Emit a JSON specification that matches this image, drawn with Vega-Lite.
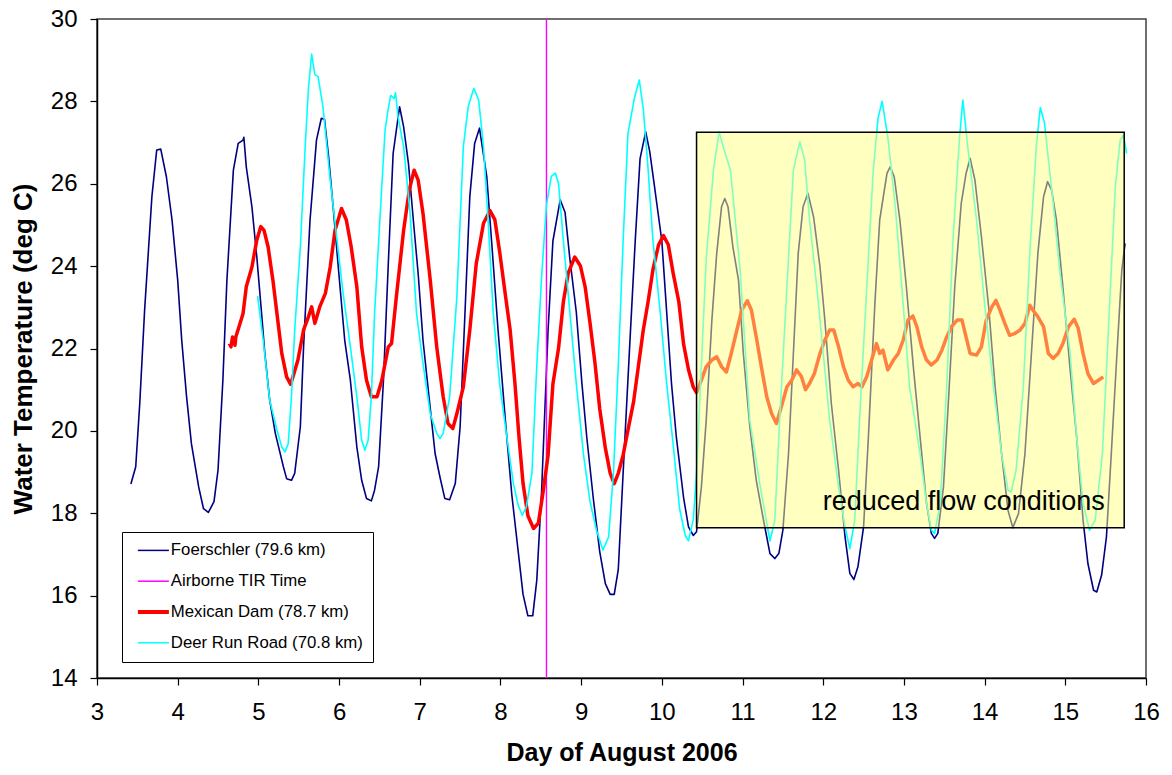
{
  "$schema": "https://vega.github.io/schema/vega-lite/v6.json",
  "width": 1049,
  "height": 659,
  "autosize": {"type": "none"},
  "padding": {"left": 97, "top": 19, "right": 26, "bottom": 97},
  "background": "white",
  "config": {
    "view": {"stroke": "#404040", "strokeWidth": 1.5},
    "font": "Liberation Sans",
    "axis": {"labelFont": "Liberation Sans", "titleFont": "Liberation Sans", "labelColor": "#000", "titleColor": "#000", "domainColor": "#000", "tickColor": "#000", "domainWidth": 1.5, "tickWidth": 1.2, "tickSize": 7, "grid": false, "labelOverlap": false, "labelFlush": false, "titleFontWeight": "bold"}
  },
  "datasets": {
    "foerschler": [
      {"day":3.42,"temp":18.71},{"day":3.48,"temp":19.13},{"day":3.53,"temp":20.67},{"day":3.59,"temp":22.93},{"day":3.68,"temp":25.68},{"day":3.74,"temp":26.82},{"day":3.79,"temp":26.84},{"day":3.86,"temp":26.17},{"day":3.93,"temp":25.12},{"day":4.0,"temp":23.66},{"day":4.05,"temp":22.2},{"day":4.11,"temp":20.83},{"day":4.17,"temp":19.69},{"day":4.26,"temp":18.64},{"day":4.32,"temp":18.11},{"day":4.38,"temp":18.02},{"day":4.45,"temp":18.28},{"day":4.5,"temp":19.05},{"day":4.56,"temp":21.23},{"day":4.61,"temp":23.66},{"day":4.69,"temp":26.33},{"day":4.75,"temp":26.98},{"day":4.81,"temp":27.06},{"day":4.82,"temp":27.13},{"day":4.85,"temp":26.41},{"day":4.92,"temp":25.44},{"day":4.98,"temp":24.23},{"day":5.04,"temp":22.85},{"day":5.08,"temp":21.88},{"day":5.14,"temp":20.75},{"day":5.21,"temp":19.94},{"day":5.31,"temp":19.13},{"day":5.35,"temp":18.84},{"day":5.41,"temp":18.8},{"day":5.45,"temp":18.97},{"day":5.52,"temp":20.1},{"day":5.56,"temp":22.04},{"day":5.64,"temp":25.12},{"day":5.72,"temp":27.06},{"day":5.78,"temp":27.59},{"day":5.82,"temp":27.56},{"day":5.87,"temp":26.66},{"day":5.93,"temp":25.36},{"day":5.99,"temp":23.98},{"day":6.07,"temp":22.2},{"day":6.14,"temp":21.23},{"day":6.22,"temp":19.61},{"day":6.28,"temp":18.8},{"day":6.34,"temp":18.36},{"day":6.4,"temp":18.3},{"day":6.44,"temp":18.56},{"day":6.49,"temp":19.13},{"day":6.55,"temp":21.23},{"day":6.61,"temp":24.06},{"day":6.67,"temp":26.74},{"day":6.75,"temp":27.87},{"day":6.8,"temp":27.38},{"day":6.86,"temp":26.49},{"day":6.92,"temp":25.12},{"day":6.98,"temp":23.82},{"day":7.04,"temp":22.2},{"day":7.11,"temp":20.91},{"day":7.19,"temp":19.45},{"day":7.25,"temp":18.88},{"day":7.31,"temp":18.36},{"day":7.37,"temp":18.33},{"day":7.44,"temp":18.72},{"day":7.5,"temp":20.1},{"day":7.56,"temp":22.85},{"day":7.62,"temp":25.68},{"day":7.68,"temp":26.98},{"day":7.74,"temp":27.35},{"day":7.83,"temp":26.18},{"day":7.89,"temp":24.61},{"day":7.97,"temp":22.45},{"day":8.06,"temp":20.28},{"day":8.14,"temp":18.46},{"day":8.22,"temp":17.07},{"day":8.28,"temp":16.03},{"day":8.34,"temp":15.51},{"day":8.4,"temp":15.51},{"day":8.45,"temp":16.37},{"day":8.51,"temp":18.54},{"day":8.59,"temp":22.45},{"day":8.65,"temp":24.61},{"day":8.74,"temp":25.61},{"day":8.8,"temp":25.31},{"day":8.86,"temp":24.18},{"day":8.94,"temp":22.88},{"day":9.01,"temp":21.14},{"day":9.07,"temp":19.84},{"day":9.15,"temp":18.37},{"day":9.23,"temp":17.07},{"day":9.3,"temp":16.29},{"day":9.36,"temp":16.03},{"day":9.41,"temp":16.03},{"day":9.46,"temp":16.63},{"day":9.52,"temp":18.97},{"day":9.6,"temp":22.01},{"day":9.67,"temp":24.61},{"day":9.73,"temp":26.61},{"day":9.8,"temp":27.26},{"day":9.85,"temp":26.78},{"day":9.91,"temp":25.92},{"day":10.0,"temp":24.61},{"day":10.06,"temp":22.88},{"day":10.12,"temp":21.14},{"day":10.18,"temp":19.84},{"day":10.27,"temp":18.37},{"day":10.33,"temp":17.67},{"day":10.39,"temp":17.46},{"day":10.43,"temp":17.55},{"day":10.49,"temp":18.64},{"day":10.55,"temp":20.26},{"day":10.62,"temp":22.69},{"day":10.68,"temp":24.31},{"day":10.74,"temp":25.44},{"day":10.78,"temp":25.64},{"day":10.82,"temp":25.44},{"day":10.88,"temp":24.47},{"day":10.95,"temp":23.66},{"day":11.01,"temp":21.88},{"day":11.09,"temp":20.1},{"day":11.17,"temp":18.8},{"day":11.26,"temp":17.83},{"day":11.34,"temp":17.02},{"day":11.4,"temp":16.9},{"day":11.45,"temp":17.02},{"day":11.5,"temp":17.59},{"day":11.57,"temp":19.45},{"day":11.63,"temp":21.88},{"day":11.69,"temp":24.31},{"day":11.75,"temp":25.44},{"day":11.81,"temp":25.77},{"day":11.88,"temp":25.2},{"day":11.96,"temp":23.98},{"day":12.02,"temp":22.69},{"day":12.1,"temp":20.67},{"day":12.19,"temp":19.05},{"day":12.27,"temp":17.43},{"day":12.33,"temp":16.54},{"day":12.38,"temp":16.39},{"day":12.43,"temp":16.7},{"day":12.5,"temp":17.67},{"day":12.56,"temp":19.86},{"day":12.64,"temp":23.09},{"day":12.7,"temp":25.12},{"day":12.79,"temp":26.25},{"day":12.83,"temp":26.41},{"day":12.88,"temp":26.17},{"day":12.95,"temp":25.12},{"day":13.03,"temp":23.5},{"day":13.12,"temp":21.48},{"day":13.2,"temp":19.86},{"day":13.28,"temp":18.24},{"day":13.34,"temp":17.51},{"day":13.38,"temp":17.39},{"day":13.42,"temp":17.51},{"day":13.49,"temp":18.64},{"day":13.55,"temp":20.67},{"day":13.63,"temp":23.5},{"day":13.71,"temp":25.52},{"day":13.77,"temp":26.25},{"day":13.82,"temp":26.62},{"day":13.88,"temp":26.09},{"day":13.96,"temp":24.72},{"day":14.05,"temp":23.01},{"day":14.13,"temp":21.07},{"day":14.21,"temp":19.45},{"day":14.29,"temp":18.07},{"day":14.35,"temp":17.65},{"day":14.42,"temp":17.99},{"day":14.5,"temp":19.45},{"day":14.58,"temp":21.88},{"day":14.66,"temp":24.31},{"day":14.73,"temp":25.68},{"day":14.78,"temp":26.05},{"day":14.83,"temp":25.85},{"day":14.89,"temp":25.12},{"day":14.97,"temp":23.5},{"day":15.06,"temp":21.48},{"day":15.14,"temp":19.86},{"day":15.22,"temp":17.83},{"day":15.28,"temp":16.78},{"day":15.35,"temp":16.13},{"day":15.39,"temp":16.09},{"day":15.45,"temp":16.5},{"day":15.51,"temp":17.43},{"day":15.57,"temp":19.45},{"day":15.64,"temp":21.88},{"day":15.7,"temp":23.9},{"day":15.74,"temp":24.55}
    ],
    "tir": [
      {"day":8.57,"temp":14},{"day":8.57,"temp":30}
    ],
    "mexican": [
      {"day":4.64,"temp":22.12},{"day":4.66,"temp":22.04},{"day":4.68,"temp":22.28},{"day":4.71,"temp":22.08},{"day":4.72,"temp":22.28},{"day":4.76,"temp":22.53},{"day":4.81,"temp":22.85},{"day":4.85,"temp":23.5},{"day":4.92,"temp":23.98},{"day":4.98,"temp":24.63},{"day":5.03,"temp":24.96},{"day":5.07,"temp":24.87},{"day":5.12,"temp":24.47},{"day":5.18,"temp":23.66},{"day":5.23,"temp":22.85},{"day":5.29,"temp":21.88},{"day":5.35,"temp":21.31},{"day":5.4,"temp":21.13},{"day":5.44,"temp":21.39},{"day":5.49,"temp":21.72},{"day":5.56,"temp":22.45},{"day":5.62,"temp":22.77},{"day":5.66,"temp":23.01},{"day":5.7,"temp":22.61},{"day":5.76,"temp":23.01},{"day":5.83,"temp":23.34},{"day":5.89,"temp":23.98},{"day":5.95,"temp":24.87},{"day":6.03,"temp":25.4},{"day":6.09,"temp":25.12},{"day":6.15,"temp":24.47},{"day":6.22,"temp":23.5},{"day":6.28,"temp":22.04},{"day":6.34,"temp":21.23},{"day":6.4,"temp":20.83},{"day":6.47,"temp":20.83},{"day":6.53,"temp":21.23},{"day":6.61,"temp":22.04},{"day":6.65,"temp":22.12},{"day":6.71,"temp":23.26},{"day":6.8,"temp":24.87},{"day":6.87,"temp":25.85},{"day":6.93,"temp":26.33},{"day":6.98,"temp":26.09},{"day":7.04,"temp":25.28},{"day":7.13,"temp":23.66},{"day":7.21,"temp":22.04},{"day":7.29,"temp":20.83},{"day":7.35,"temp":20.18},{"day":7.41,"temp":20.06},{"day":7.46,"temp":20.42},{"day":7.54,"temp":21.07},{"day":7.62,"temp":22.45},{"day":7.7,"temp":24.06},{"day":7.79,"temp":25.04},{"day":7.87,"temp":25.35},{"day":7.93,"temp":25.13},{"day":7.99,"temp":24.35},{"day":8.06,"temp":23.31},{"day":8.12,"temp":22.45},{"day":8.18,"temp":21.14},{"day":8.23,"temp":19.84},{"day":8.28,"temp":18.72},{"day":8.34,"temp":17.94},{"day":8.41,"temp":17.63},{"day":8.47,"temp":17.76},{"day":8.53,"temp":18.54},{"day":8.59,"temp":19.41},{"day":8.65,"temp":21.14},{"day":8.72,"temp":22.01},{"day":8.78,"temp":23.14},{"day":8.84,"temp":23.83},{"day":8.92,"temp":24.22},{"day":8.99,"temp":24.01},{"day":9.05,"temp":23.49},{"day":9.11,"temp":22.62},{"day":9.17,"temp":21.67},{"day":9.23,"temp":20.54},{"day":9.3,"temp":19.58},{"day":9.36,"temp":18.97},{"day":9.41,"temp":18.72},{"day":9.46,"temp":18.97},{"day":9.52,"temp":19.41},{"day":9.58,"temp":20.02},{"day":9.65,"temp":20.71},{"day":9.71,"temp":21.58},{"day":9.77,"temp":22.45},{"day":9.83,"temp":23.14},{"day":9.89,"temp":23.92},{"day":9.96,"temp":24.52},{"day":10.02,"temp":24.74},{"day":10.08,"temp":24.52},{"day":10.14,"temp":23.83},{"day":10.21,"temp":23.14},{"day":10.27,"temp":22.1},{"day":10.33,"temp":21.49},{"day":10.39,"temp":21.06},{"day":10.43,"temp":20.93},{"day":10.49,"temp":21.23},{"day":10.55,"temp":21.56},{"day":10.62,"temp":21.72},{"day":10.68,"temp":21.8},{"day":10.74,"temp":21.56},{"day":10.8,"temp":21.43},{"day":10.86,"temp":21.88},{"day":10.93,"temp":22.45},{"day":10.99,"temp":22.93},{"day":11.06,"temp":23.16},{"day":11.11,"temp":22.93},{"day":11.17,"temp":22.28},{"day":11.24,"temp":21.48},{"day":11.3,"temp":20.83},{"day":11.36,"temp":20.42},{"day":11.42,"temp":20.18},{"day":11.48,"temp":20.58},{"day":11.55,"temp":21.07},{"day":11.61,"temp":21.23},{"day":11.67,"temp":21.48},{"day":11.73,"temp":21.32},{"day":11.78,"temp":21.0},{"day":11.83,"temp":21.15},{"day":11.89,"temp":21.39},{"day":11.96,"temp":21.88},{"day":12.02,"temp":22.2},{"day":12.08,"temp":22.45},{"day":12.13,"temp":22.45},{"day":12.19,"temp":22.04},{"day":12.25,"temp":21.56},{"day":12.31,"temp":21.23},{"day":12.37,"temp":21.07},{"day":12.43,"temp":21.15},{"day":12.48,"temp":21.07},{"day":12.54,"temp":21.32},{"day":12.6,"temp":21.72},{"day":12.66,"temp":22.12},{"day":12.7,"temp":21.88},{"day":12.74,"temp":21.96},{"day":12.8,"temp":21.48},{"day":12.87,"temp":21.72},{"day":12.93,"temp":21.88},{"day":12.99,"temp":22.2},{"day":13.05,"temp":22.69},{"day":13.11,"temp":22.79},{"day":13.16,"temp":22.53},{"day":13.22,"temp":22.04},{"day":13.28,"temp":21.72},{"day":13.34,"temp":21.6},{"day":13.41,"temp":21.72},{"day":13.47,"temp":21.96},{"day":13.53,"temp":22.28},{"day":13.59,"temp":22.53},{"day":13.66,"temp":22.69},{"day":13.72,"temp":22.69},{"day":13.76,"temp":22.36},{"day":13.82,"temp":21.88},{"day":13.9,"temp":21.84},{"day":13.96,"temp":22.04},{"day":14.02,"temp":22.69},{"day":14.09,"temp":23.01},{"day":14.14,"temp":23.17},{"day":14.19,"temp":22.93},{"day":14.25,"temp":22.61},{"day":14.31,"temp":22.32},{"day":14.37,"temp":22.36},{"day":14.44,"temp":22.45},{"day":14.5,"temp":22.61},{"day":14.56,"temp":23.05},{"day":14.6,"temp":22.93},{"day":14.66,"temp":22.77},{"day":14.73,"temp":22.53},{"day":14.79,"temp":21.88},{"day":14.85,"temp":21.76},{"day":14.91,"temp":21.88},{"day":14.97,"temp":22.12},{"day":15.04,"temp":22.53},{"day":15.11,"temp":22.71},{"day":15.16,"temp":22.49},{"day":15.22,"temp":21.88},{"day":15.28,"temp":21.39},{"day":15.35,"temp":21.15},{"day":15.41,"temp":21.23},{"day":15.47,"temp":21.31}
    ],
    "deerrun": [
      {"day":4.99,"temp":23.27},{"day":5.06,"temp":22.2},{"day":5.14,"temp":20.75},{"day":5.23,"temp":20.02},{"day":5.29,"temp":19.61},{"day":5.33,"temp":19.49},{"day":5.37,"temp":19.69},{"day":5.41,"temp":20.83},{"day":5.45,"temp":22.45},{"day":5.52,"temp":24.47},{"day":5.58,"temp":26.9},{"day":5.62,"temp":28.3},{"day":5.66,"temp":29.15},{"day":5.7,"temp":28.65},{"day":5.74,"temp":28.6},{"day":5.8,"temp":27.87},{"day":5.89,"temp":26.09},{"day":5.97,"temp":24.71},{"day":6.05,"temp":23.34},{"day":6.14,"temp":22.04},{"day":6.22,"temp":20.83},{"day":6.28,"temp":19.77},{"day":6.32,"temp":19.53},{"day":6.36,"temp":19.77},{"day":6.4,"temp":20.83},{"day":6.44,"temp":22.85},{"day":6.51,"temp":25.28},{"day":6.57,"temp":27.3},{"day":6.6,"temp":27.71},{"day":6.64,"temp":28.15},{"day":6.68,"temp":28.07},{"day":6.7,"temp":28.21},{"day":6.73,"temp":27.63},{"day":6.8,"temp":26.9},{"day":6.88,"temp":25.28},{"day":6.96,"temp":22.85},{"day":7.04,"temp":21.64},{"day":7.13,"temp":20.42},{"day":7.21,"temp":19.94},{"day":7.25,"temp":19.81},{"day":7.29,"temp":19.94},{"day":7.37,"temp":20.83},{"day":7.46,"temp":23.26},{"day":7.54,"temp":26.9},{"day":7.6,"temp":27.87},{"day":7.67,"temp":28.32},{"day":7.73,"temp":28.03},{"day":7.79,"temp":26.9},{"day":7.85,"temp":25.0},{"day":7.91,"temp":22.88},{"day":7.99,"temp":21.14},{"day":8.08,"temp":19.84},{"day":8.16,"temp":18.72},{"day":8.22,"temp":18.19},{"day":8.27,"temp":17.95},{"day":8.32,"temp":18.15},{"day":8.39,"temp":18.97},{"day":8.45,"temp":21.58},{"day":8.51,"temp":23.75},{"day":8.57,"temp":25.48},{"day":8.63,"temp":26.18},{"day":8.68,"temp":26.26},{"day":8.72,"temp":26.0},{"day":8.78,"temp":24.61},{"day":8.86,"temp":22.88},{"day":8.94,"temp":21.14},{"day":9.03,"temp":19.41},{"day":9.11,"temp":18.28},{"day":9.19,"temp":17.59},{"day":9.27,"temp":17.11},{"day":9.34,"temp":17.42},{"day":9.4,"temp":18.97},{"day":9.46,"temp":21.58},{"day":9.52,"temp":24.61},{"day":9.58,"temp":27.22},{"day":9.66,"temp":28.08},{"day":9.72,"temp":28.52},{"day":9.77,"temp":27.82},{"day":9.83,"temp":26.35},{"day":9.89,"temp":24.61},{"day":9.98,"temp":22.88},{"day":10.06,"temp":21.14},{"day":10.14,"temp":19.67},{"day":10.22,"temp":18.11},{"day":10.29,"temp":17.46},{"day":10.33,"temp":17.33},{"day":10.39,"temp":17.85},{"day":10.43,"temp":18.97},{"day":10.49,"temp":21.58},{"day":10.55,"temp":24.18},{"day":10.64,"temp":26.35},{"day":10.71,"temp":27.26},{"day":10.76,"temp":26.9},{"day":10.85,"temp":26.33},{"day":10.97,"temp":23.9},{"day":11.09,"temp":20.26},{"day":11.22,"temp":18.64},{"day":11.34,"temp":17.33},{"day":11.4,"temp":17.83},{"day":11.46,"temp":20.26},{"day":11.55,"temp":23.5},{"day":11.63,"temp":26.33},{"day":11.71,"temp":27.02},{"day":11.77,"temp":26.58},{"day":11.83,"temp":25.12},{"day":11.92,"temp":23.5},{"day":12.0,"temp":21.88},{"day":12.08,"temp":20.26},{"day":12.19,"temp":18.64},{"day":12.27,"temp":17.67},{"day":12.33,"temp":17.14},{"day":12.39,"temp":17.83},{"day":12.45,"temp":20.26},{"day":12.54,"temp":23.5},{"day":12.62,"temp":26.33},{"day":12.68,"temp":27.6},{"day":12.73,"temp":28.0},{"day":12.8,"temp":27.14},{"day":12.89,"temp":25.52},{"day":12.99,"temp":23.09},{"day":13.07,"temp":21.07},{"day":13.2,"temp":19.45},{"day":13.28,"temp":18.24},{"day":13.34,"temp":17.59},{"day":13.38,"temp":17.51},{"day":13.45,"temp":18.24},{"day":13.53,"temp":21.07},{"day":13.61,"temp":24.71},{"day":13.69,"temp":27.14},{"day":13.73,"temp":28.03},{"day":13.8,"temp":26.74},{"day":13.9,"temp":25.12},{"day":14.0,"temp":23.09},{"day":14.11,"temp":21.07},{"day":14.21,"temp":19.45},{"day":14.29,"temp":18.56},{"day":14.33,"temp":18.52},{"day":14.39,"temp":19.05},{"day":14.48,"temp":21.07},{"day":14.56,"temp":24.31},{"day":14.64,"temp":26.9},{"day":14.69,"temp":27.85},{"day":14.74,"temp":27.5},{"day":14.85,"temp":25.52},{"day":14.93,"temp":23.9},{"day":15.06,"temp":21.88},{"day":15.14,"temp":19.86},{"day":15.22,"temp":18.24},{"day":15.3,"temp":17.59},{"day":15.37,"temp":17.83},{"day":15.46,"temp":19.45},{"day":15.54,"temp":22.69},{"day":15.62,"temp":25.93},{"day":15.68,"temp":27.06},{"day":15.72,"temp":27.18},{"day":15.76,"temp":26.74}
    ],
    "box": [
      {"day":10.43,"day2":15.73,"temp":17.65,"temp2":27.25}
    ],
    "note": [
      {"day":15.49,"temp":18.07,"text":"reduced flow conditions"}
    ]
  },
  "layer": [
    {
      "data": {"name": "foerschler"},
      "mark": {"type": "line", "strokeWidth": 1.6, "strokeJoin": "round"},
      "encoding": {
        "x": {"field": "day", "type": "quantitative", "scale": {"domain": [3, 16], "nice": false, "zero": false},
          "axis": {"title": "Day of August 2006", "format": "d", "values": [3,4,5,6,7,8,9,10,11,12,13,14,15,16], "labelFontSize": 24, "labelPadding": 15, "titleFontSize": 25, "titlePadding": 16}},
        "y": {"field": "temp", "type": "quantitative", "scale": {"domain": [14, 30], "nice": false, "zero": false},
          "axis": {"title": "Water Temperature (deg C)", "format": "d", "values": [14,16,18,20,22,24,26,28,30], "labelFontSize": 24, "labelPadding": 13, "titleFontSize": 26, "titlePadding": 14}},
        "color": {
          "datum": "Foerschler (79.6 km)",
          "type": "nominal",
          "scale": {"domain": ["Foerschler (79.6 km)", "Airborne TIR Time", "Mexican Dam (78.7 km)", "Deer Run Road (70.8 km)"], "range": ["#000080", "#FF00FF", "#FF0000", "#00FFFF"]},
          "legend": {
            "title": null, "orient": "none", "legendX": 25, "legendY": 513,
            "symbolType": "stroke", "symbolSize": 961, "symbolStrokeWidth": 1.5, "symbolOffset": 13,
            "labelFont": "Liberation Sans", "labelFontSize": 16.8, "labelColor": "#000", "labelOffset": 9, "labelLimit": 400,
            "rowPadding": 12.8, "padding": 10, "strokeColor": "#000", "fillColor": "#fff",
            "encode": {"symbols": {"update": {"strokeWidth": {"signal": "datum.value === 'Mexican Dam (78.7 km)' ? 4 : 1.5"}}}}
          }
        }
      }
    },
    {
      "data": {"name": "tir"},
      "mark": {"type": "line", "strokeWidth": 1.4},
      "encoding": {
        "x": {"field": "day", "type": "quantitative"},
        "y": {"field": "temp", "type": "quantitative"},
        "color": {"datum": "Airborne TIR Time", "type": "nominal"}
      }
    },
    {
      "data": {"name": "mexican"},
      "mark": {"type": "line", "strokeWidth": 3.5, "strokeJoin": "round"},
      "encoding": {
        "x": {"field": "day", "type": "quantitative"},
        "y": {"field": "temp", "type": "quantitative"},
        "color": {"datum": "Mexican Dam (78.7 km)", "type": "nominal"}
      }
    },
    {
      "data": {"name": "deerrun"},
      "mark": {"type": "line", "strokeWidth": 1.6, "strokeJoin": "round"},
      "encoding": {
        "x": {"field": "day", "type": "quantitative"},
        "y": {"field": "temp", "type": "quantitative"},
        "color": {"datum": "Deer Run Road (70.8 km)", "type": "nominal"}
      }
    },
    {
      "data": {"name": "box"},
      "mark": {"type": "rect", "fill": "#FFFF80", "fillOpacity": 0.5, "stroke": "#000", "strokeWidth": 1.5},
      "encoding": {
        "x": {"field": "day", "type": "quantitative"},
        "x2": {"field": "day2"},
        "y": {"field": "temp", "type": "quantitative"},
        "y2": {"field": "temp2"}
      }
    },
    {
      "data": {"name": "note"},
      "mark": {"type": "text", "align": "right", "baseline": "alphabetic", "fontSize": 27, "font": "Liberation Sans", "color": "#000"},
      "encoding": {
        "x": {"field": "day", "type": "quantitative"},
        "y": {"field": "temp", "type": "quantitative"},
        "text": {"field": "text"}
      }
    }
  ]
}
